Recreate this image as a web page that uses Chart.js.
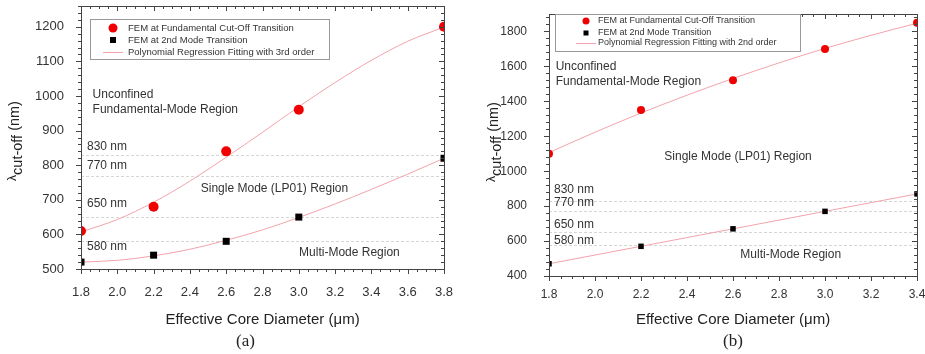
<!DOCTYPE html>
<html>
<head>
<meta charset="utf-8">
<script src="https://cdn.jsdelivr.net/npm/chart.js@4.4.1/dist/chart.umd.min.js"></script>
<style>
  body { margin: 0; background: #fff; width: 925px; height: 354px; overflow: hidden; position: relative; }
  #wrapA { position: absolute; left: 0; top: 0; width: 460px; height: 354px; }
  #wrapB { position: absolute; left: 460px; top: 0; width: 465px; height: 354px; }
  .cap { position: absolute; top: 331px; font-family: "Liberation Serif", "Times New Roman", serif; font-size: 17px; color: #222; }
</style>
</head>
<body>
<div id="wrapA"><canvas id="chartA" width="460" height="354"></canvas></div>
<div id="wrapB"><canvas id="chartB" width="465" height="354"></canvas></div>
<div class="cap" style="left:236px">(a)</div>
<div class="cap" style="left:723px">(b)</div>
<script>
// (a) FEM results and 3rd order fit
const diameterA = [1.8, 2.2, 2.6, 3.0, 3.8];
const fundamentalA = [610, 680, 840, 960, 1200];
const secondModeA = [520, 540, 580, 650, 820];
const fitXA = [1.8, 2.0, 2.2, 2.4, 2.6, 2.8, 3.0, 3.2, 3.4, 3.6, 3.8];
const fitFundamentalA = [607, 643, 693, 754, 823, 895, 969, 1039, 1103, 1158, 1199];
const fitSecondModeA = [520, 525, 538, 557, 583, 613, 649, 688, 730, 774, 820];
const xTicksA = [1.8, 2.0, 2.2, 2.4, 2.6, 2.8, 3.0, 3.2, 3.4, 3.6, 3.8];
const yTicksA = [500, 600, 700, 800, 900, 1000, 1100, 1200];

// (b) FEM results and 2nd order fit
const diameterB = [1.8, 2.2, 2.6, 3.0, 3.4];
const fundamentalB = [1100, 1350, 1520, 1700, 1850];
const secondModeB = [470, 570, 670, 770, 870];
const fitXB = [1.8, 2.0, 2.2, 2.4, 2.6, 2.8, 3.0, 3.2, 3.4];
const fitFundamentalB = [1107, 1223, 1333, 1435, 1531, 1620, 1703, 1778, 1847];
const fitSecondModeB = [470, 520, 570, 620, 670, 720, 770, 820, 870];
const xTicksB = [1.8, 2.0, 2.2, 2.4, 2.6, 2.8, 3.0, 3.2, 3.4];
const yTicksB = [400, 600, 800, 1000, 1200, 1400, 1600, 1800];

// wavelength guide lines
const refLines = [830, 770, 650, 580];
const refLabels = ['830 nm', '770 nm', '650 nm', '580 nm'];

const pointLabels = ['FEM at Fundamental Cut-Off Transition', 'FEM at 2nd Mode Transition'];
const fitLabelA = 'Polynomial Regression Fitting with 3rd order';
const fitLabelB = 'Polynomial Regression Fitting with 2nd order';

const FONT = '"Liberation Sans", Arial, sans-serif';
const TXT = '#333';
const FIT_COLOR = '#f2a3ab';

function pairs(xs, ys) {
    return xs.map((x, i) => ({ x: x, y: ys[i] }));
}

const decor = {
    id: 'decor',
    beforeDatasetsDraw(chart, args, o) {
        const { ctx, chartArea: a, scales: { y } } = chart;
        ctx.save();
        ctx.strokeStyle = '#d6d6d6';
        ctx.lineWidth = 1;
        ctx.setLineDash([3, 2]);
        refLines.forEach(v => {
            const py = Math.round(y.getPixelForValue(v)) + 0.5;
            ctx.beginPath();
            ctx.moveTo(a.left, py);
            ctx.lineTo(a.right, py);
            ctx.stroke();
        });
        ctx.restore();
    },
    afterDraw(chart, args, o) {
        const { ctx, chartArea: a, scales: { x, y } } = chart;
        ctx.save();

        // frame and ticks
        ctx.strokeStyle = '#444';
        ctx.lineWidth = 1;
        ctx.strokeRect(Math.round(a.left) + 0.5, Math.round(a.top) + 0.5,
            Math.round(a.right - a.left), Math.round(a.bottom - a.top));
        ctx.beginPath();
        const xt = o.xTicks, xs = (xt[1] - xt[0]) / o.xMinor;
        for (let k = 0; ; k++) {
            const v = xt[0] + k * xs;
            if (v > x.max + 1e-9) break;
            const len = k % o.xMinor === 0 ? 5 : 3;
            const px = Math.round(x.getPixelForValue(v)) + 0.5;
            ctx.moveTo(px, a.bottom); ctx.lineTo(px, a.bottom + len);
            ctx.moveTo(px, a.top); ctx.lineTo(px, a.top + len);
        }
        const yt = o.yTicks, ys = (yt[1] - yt[0]) / o.yMinor;
        for (let k = 0; ; k++) {
            const v = yt[0] + k * ys;
            if (v > y.max + 1e-9) break;
            const len = k % o.yMinor === 0 ? 5 : 3;
            const py = Math.round(y.getPixelForValue(v)) + 0.5;
            ctx.moveTo(a.left, py); ctx.lineTo(a.left - len, py);
            ctx.moveTo(a.right, py); ctx.lineTo(a.right - len, py);
        }
        ctx.stroke();

        // guide line labels
        ctx.fillStyle = TXT;
        ctx.font = '12px ' + FONT;
        ctx.textBaseline = 'middle';
        ctx.textAlign = 'left';
        refLines.forEach((v, i) => {
            ctx.fillText(refLabels[i], a.left + o.refDx, y.getPixelForValue(v) + o.refDy[i]);
        });

        // region notes
        o.notes.forEach(n => {
            ctx.textAlign = n.align;
            ctx.fillText(n.text, x.getPixelForValue(n.x), y.getPixelForValue(n.y));
        });

        // legend
        const L = o.legend;
        const bx = a.left + L.dx, by = a.top + L.dy;
        ctx.fillStyle = '#fff';
        ctx.fillRect(bx, by, L.w, L.h);
        ctx.strokeStyle = '#999';
        ctx.strokeRect(bx + 0.5, by + 0.5, L.w, L.h);
        const ds = chart.data.datasets;
        ctx.font = L.font + 'px ' + FONT;
        ctx.textAlign = 'left';
        const ix = bx + L.icon;
        ctx.fillStyle = ds[0].backgroundColor;
        ctx.beginPath();
        ctx.arc(ix, by + L.rows[0], L.r, 0, Math.PI * 2);
        ctx.fill();
        ctx.fillStyle = ds[1].backgroundColor;
        ctx.fillRect(ix - L.sq / 2, by + L.rows[1] - L.sq / 2, L.sq, L.sq);
        ctx.strokeStyle = FIT_COLOR;
        ctx.beginPath();
        ctx.moveTo(ix - 10, by + L.rows[2] + 0.5);
        ctx.lineTo(ix + 10, by + L.rows[2] + 0.5);
        ctx.stroke();
        ctx.fillStyle = TXT;
        ctx.fillText(ds[0].label, bx + L.text, by + L.rows[0]);
        ctx.fillText(ds[1].label, bx + L.text, by + L.rows[1]);
        ctx.fillText(ds[2].label, bx + L.text, by + L.rows[2]);

        // y axis title with subscript
        ctx.translate(o.titleX, o.titleY);
        ctx.rotate(-Math.PI / 2);
        const parts = [['\u03bb', 12, -2], ['cut-off', 14.5, 3], [' (nm)', 14.5, 0]];
        let total = 0;
        parts.forEach(p => { ctx.font = p[1] + 'px ' + FONT; total += ctx.measureText(p[0]).width; });
        let cx = -total / 2;
        ctx.fillStyle = '#222';
        ctx.textAlign = 'left';
        parts.forEach(p => {
            ctx.font = p[1] + 'px ' + FONT;
            ctx.fillText(p[0], cx, p[2]);
            cx += ctx.measureText(p[0]).width;
        });
        ctx.restore();
    }
};

function makeChart(id, s) {
    return new Chart(document.getElementById(id), {
        type: 'scatter',
        data: {
            datasets: [{
                label: pointLabels[0],
                data: pairs(s.dx, s.fund),
                backgroundColor: '#f00000',
                borderWidth: 0,
                pointStyle: 'circle',
                pointRadius: s.r,
                clip: 0,
                order: 1
            }, {
                label: pointLabels[1],
                data: pairs(s.dx, s.second),
                backgroundColor: '#000',
                borderWidth: 0,
                pointStyle: 'rect',
                pointRadius: s.sq / Math.SQRT2,
                clip: 0,
                order: 1
            }, {
                label: s.fitLabel,
                data: pairs(s.fx, s.fitFund),
                showLine: true,
                borderColor: FIT_COLOR,
                borderWidth: 1,
                pointRadius: 0,
                cubicInterpolationMode: 'monotone',
                order: 2
            }, {
                label: '',
                data: pairs(s.fx, s.fitSecond),
                showLine: true,
                borderColor: FIT_COLOR,
                borderWidth: 1,
                pointRadius: 0,
                cubicInterpolationMode: 'monotone',
                order: 2
            }]
        },
        options: {
            responsive: false,
            animation: false,
            layout: { padding: s.pad },
            plugins: {
                legend: { display: false },
                tooltip: { enabled: false },
                decor: s.decor
            },
            scales: {
                x: {
                    type: 'linear',
                    min: s.xTicks[0],
                    max: s.xTicks[s.xTicks.length - 1],
                    afterBuildTicks: sc => { sc.ticks = s.xTicks.map(v => ({ value: v })); },
                    afterFit: sc => { sc.height = s.xHeight; sc.paddingLeft = 0; sc.paddingRight = 0; },
                    grid: { display: false },
                    border: { display: false },
                    ticks: {
                        padding: s.xPad,
                        color: TXT,
                        font: { family: FONT, size: s.tickSize },
                        maxRotation: 0,
                        callback: v => v.toFixed(1)
                    },
                    title: {
                        display: true,
                        text: 'Effective Core Diameter (\u03bcm)',
                        color: '#222',
                        font: { family: FONT, size: 15 },
                        padding: { top: 0, bottom: 25 }
                    }
                },
                y: {
                    type: 'linear',
                    min: s.yTicks[0],
                    max: s.yMax,
                    afterBuildTicks: sc => { sc.ticks = s.yTicks.map(v => ({ value: v })); },
                    afterFit: sc => { sc.width = s.yWidth; sc.paddingTop = 0; sc.paddingBottom = 0; },
                    grid: { display: false },
                    border: { display: false },
                    ticks: {
                        padding: s.yPad,
                        color: TXT,
                        font: { family: FONT, size: s.tickSize },
                        callback: v => String(v)
                    }
                }
            }
        },
        plugins: [decor]
    });
}

makeChart('chartA', {
    dx: diameterA, fund: fundamentalA, second: secondModeA,
    fx: fitXA, fitFund: fitFundamentalA, fitSecond: fitSecondModeA,
    fitLabel: fitLabelA,
    xTicks: xTicksA, yTicks: yTicksA, yMax: 1260,
    r: 5, sq: 7,
    pad: { left: 0, top: 6, right: 16, bottom: 0 },
    xHeight: 85, yWidth: 81, xPad: 8, yPad: 9, tickSize: 13,
    decor: {
        xTicks: xTicksA, yTicks: yTicksA, xMinor: 4, yMinor: 5,
        refDx: 6, refDy: [-8, -10, -13, 5],
        notes: [
            { text: 'Unconfined', x: 1.864, y: 1003, align: 'left' },
            { text: 'Fundamental-Mode Region', x: 1.864, y: 960, align: 'left' },
            { text: 'Single Mode (LP01) Region', x: 2.866, y: 733, align: 'center' },
            { text: 'Multi-Mode Region', x: 3.279, y: 548, align: 'center' }
        ],
        legend: { dx: 9, dy: 13, w: 239, h: 40, rows: [9, 21, 33], icon: 23, text: 38, font: 9.5, r: 4.5, sq: 6 },
        titleX: 15, titleY: 141
    }
});

makeChart('chartB', {
    dx: diameterB, fund: fundamentalB, second: secondModeB,
    fx: fitXB, fitFund: fitFundamentalB, fitSecond: fitSecondModeB,
    fitLabel: fitLabelB,
    xTicks: xTicksB, yTicks: yTicksB, yMax: 1900,
    r: 4, sq: 5.5,
    pad: { left: 0, top: 14, right: 8, bottom: 0 },
    xHeight: 78, yWidth: 89, xPad: 3, yPad: 14, tickSize: 12,
    decor: {
        xTicks: xTicksB, yTicks: yTicksB, xMinor: 4, yMinor: 5,
        refDx: 5, refDy: [-11, -9, -8, -4],
        notes: [
            { text: 'Unconfined', x: 1.829, y: 1599, align: 'left' },
            { text: 'Fundamental-Mode Region', x: 1.829, y: 1513, align: 'left' },
            { text: 'Single Mode (LP01) Region', x: 2.622, y: 1084, align: 'center' },
            { text: 'Multi-Mode Region', x: 2.851, y: 520, align: 'center' }
        ],
        legend: { dx: 6, dy: 0, w: 245, h: 37, rows: [7, 19, 29], icon: 31, text: 43, font: 9, r: 3.5, sq: 5 },
        titleX: 34, titleY: 142
    }
});
</script>
</body>
</html>
